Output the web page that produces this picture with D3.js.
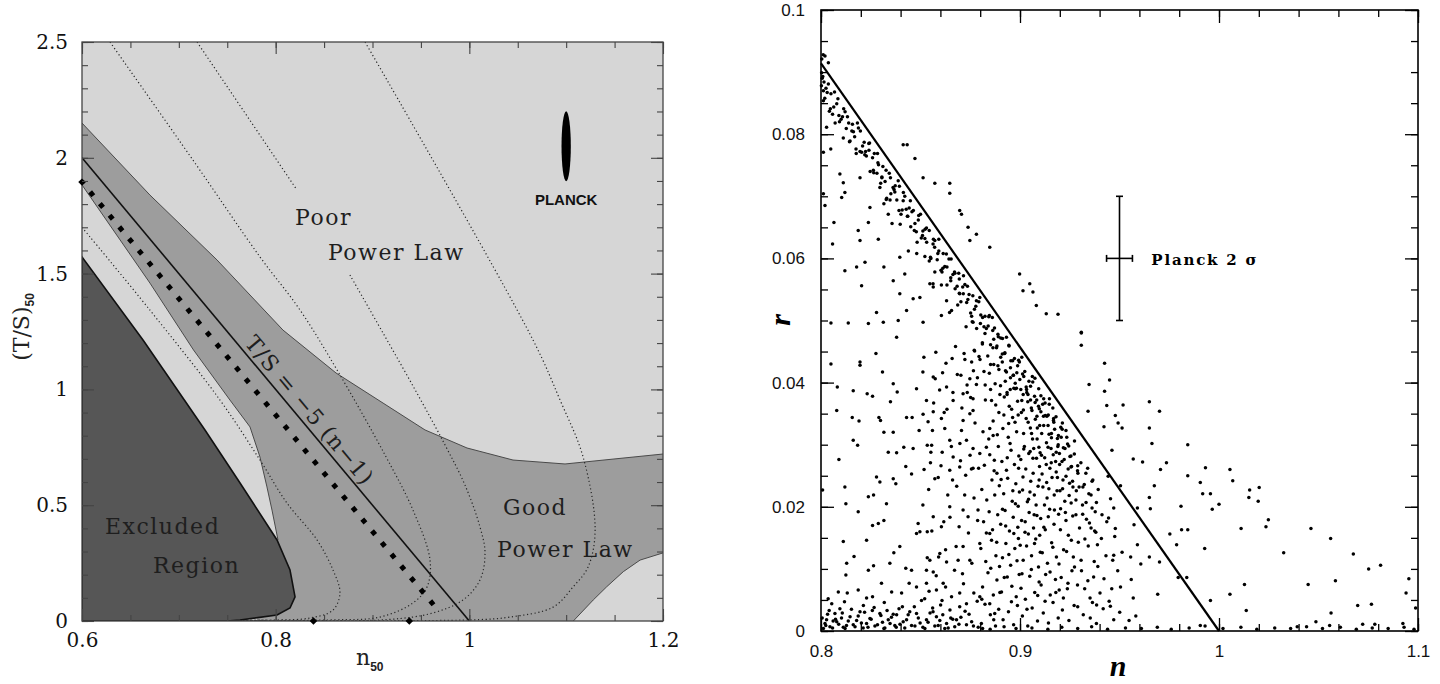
<!DOCTYPE html>
<html>
<head>
<meta charset="utf-8">
<script src="https://cdn.jsdelivr.net/npm/d3@7"></script>
<style>
  body { margin: 0; background: #fff; }
  svg { display: block; }
</style>
</head>
<body>
<svg id="chart" width="1440" height="684"></svg>
<script>
// ---------- left panel data : n50 vs (T/S)50 ----------
const xMajorL = [0.6, 0.8, 1.0, 1.2];
const yMajorL = [0, 0.5, 1, 1.5, 2, 2.5];

// medium grey band ("good power law"), upper and lower edges
const bandUpper = [[0.6,2.15],[0.6702,1.839],[0.7394,1.559],[0.8076,1.256],[0.8623,1.071],[0.9109,0.941],
  [0.9542,0.825],[0.9976,0.747],[1.0451,0.695],[1.0988,0.678],[1.2,0.721]];
const bandLower = [[0.6,1.883],[0.6702,1.459],[0.7152,1.17],[0.7528,0.954],[0.7735,0.838],[0.7838,0.708],
  [0.791,0.579],[0.7962,0.479],[0.8024,0.35]];
// light patch bottom right
const lightCorner = [[1.1074,0],[1.128,0.091],[1.1419,0.148],[1.159,0.213],[1.1763,0.263],[1.2,0.294]];
// excluded region (dark)
const excluded = [[0.6,1.572],[0.663,1.213],[0.727,0.825],[0.7632,0.596],[0.8014,0.35],[0.8148,0.22],
  [0.82,0.104],[0.8148,0.056],[0.8014,0.026],[0.7632,0.004],[0.7498,0],[0.6,0]];

// dotted contours
const contour0 = [[0.6,1.70],[0.67,1.343],[0.7425,0.954],[0.7838,0.695],[0.8117,0.509],[0.8427,0.35],[0.8592,0.22],
  [0.8664,0.121],[0.8592,0.047],[0.8355,0.013],[0.8014,0.004],[0.76,0.003]];
const contour1 = [[0.6289,2.5],[0.7146,1.99],[0.7838,1.572],[0.8251,1.343],[0.8634,1.084],[0.9129,0.717],[0.9418,0.479],
  [0.9594,0.263],[0.9563,0.147],[0.9418,0.078],[0.9077,0.017],[0.86,0.005],[0.76,0.003]];
const contour2a = [[0.7188,2.5],[0.822,1.861]];
const contour2b = [[0.8767,1.494],[0.9108,1.244],[0.9459,0.984],[0.9749,0.76],[0.9955,0.587],[1.011,0.406],[1.0162,0.294],
  [1.011,0.177],[0.9935,0.091],[0.9625,0.035],[0.915,0.006],[0.76,0.003]];
const contour3 = [[0.8923,2.5],[1.0658,1.213],[1.0937,0.954],[1.1175,0.708],[1.1299,0.393],[1.1226,0.233],[1.1071,0.147],
  [1.0865,0.06],[1.042,0.017],[1.0038,0.005],[0.76,0.003]];

const tsLine = [[0.6,2.0],[1.0,0]];          // T/S = -5 (n-1)
const diamondLine = [[0.6,1.895],[0.968,0.045]];
const axisMarks = [[0.6,1.895],[0.839,0],[0.938,0]];
const planckL = { n: 1.1, t: 2.05, dn: 0.0048, dt: 0.151 };

const leftLabels = [
  { text: "Poor", n: 0.82, t: 1.71 },
  { text: "Power Law", n: 0.854, t: 1.559 },
  { text: "Good", n: 1.0348, t: 0.458 },
  { text: "Power Law", n: 1.0286, t: 0.276 },
  { text: "Excluded", n: 0.6238, t: 0.376 },
  { text: "Region", n: 0.6733, t: 0.207 }
];

// ---------- right panel data : n vs r ----------
const xMajorR = [0.8, 0.9, 1.0, 1.1];
const yMajorR = [0, 0.02, 0.04, 0.06, 0.08, 0.1];
const rLine = [[0.8,0.0914],[1.0,0]];
const planck2 = { n: 0.95, r: 0.06, nLo: 0.9435, nHi: 0.9565, rLo: 0.05, rHi: 0.07 };

const bandPoints = [
  [0.8004,0.0921],[0.8011,0.0928],[0.8003,0.0899],[0.8009,0.0893],[0.8015,0.0884],[0.8002,0.0878],
  [0.8006,0.0890],[0.8019,0.0858],[0.8031,0.0867],[0.8042,0.0837],[0.8050,0.0865],[0.8064,0.0844],[0.8071,0.0818],
  [0.8085,0.0857],[0.8093,0.0820],[0.8108,0.0828],[0.8114,0.0841],[0.8127,0.0809],[0.8139,0.0818],[0.8146,0.0789],
  [0.8158,0.0816],[0.8169,0.0796],[0.8177,0.0769],[0.8188,0.0810],[0.8196,0.0772],[0.8209,0.0781],[0.8217,0.0787],
  [0.8228,0.0765],[0.8240,0.0785],[0.8247,0.0740],[0.8259,0.0762],[0.8268,0.0769],[0.8281,0.0737],[0.8289,0.0751],
  [0.8300,0.0721],[0.8311,0.0748],[0.8322,0.0724],[0.8330,0.0697],[0.8343,0.0737],[0.8351,0.0704],[0.8362,0.0714],
  [0.8373,0.0717],[0.8381,0.0694],[0.8394,0.0716],[0.8402,0.0671],[0.8413,0.0693],[0.8421,0.0700],[0.8434,0.0668],
  [0.8443,0.0681],[0.8451,0.0651],[0.8464,0.0677],[0.8472,0.0656],[0.8483,0.0626],[0.8491,0.0669],[0.8504,0.0633],
  [0.8512,0.0644],[0.8523,0.0647],[0.8531,0.0626],[0.8544,0.0645],[0.8552,0.0600],[0.8563,0.0623],[0.8572,0.0629],
  [0.8584,0.0598],[0.8592,0.0612],[0.8603,0.0581],[0.8614,0.0608],[0.8622,0.0587],[0.8633,0.0557],[0.8643,0.0599],
  [0.8652,0.0564],[0.8663,0.0574],[0.8671,0.0578],[0.8684,0.0555],[0.8692,0.0576],[0.8703,0.0530],[0.8712,0.0554],
  [0.8723,0.0558],[0.8732,0.0529],[0.8744,0.0542],[0.8752,0.0512],[0.8763,0.0540],[0.8771,0.0518],[0.8782,0.0487],
  [0.8793,0.0530],[0.8801,0.0495],[0.8812,0.0505],[0.8824,0.0507],[0.8831,0.0487],[0.8843,0.0506],[0.8852,0.0461],
  [0.8863,0.0484],[0.8872,0.0488],[0.8884,0.0459],[0.8891,0.0474],[0.8903,0.0441],[0.8912,0.0471],[0.8923,0.0447],
  [0.8932,0.0417],[0.8944,0.0460],[0.8952,0.0424],[0.8963,0.0435],[0.8972,0.0439],[0.8984,0.0416],[0.8993,0.0436],
  [0.9004,0.0389],[0.9013,0.0414],[0.9024,0.0418],[0.9033,0.0389],[0.9045,0.0402],[0.9053,0.0372],[0.9064,0.0401],
  [0.9073,0.0378],[0.9085,0.0346],[0.9094,0.0390],[0.9105,0.0353],[0.9114,0.0365],[0.9126,0.0367],[0.9135,0.0346],
  [0.9147,0.0365],[0.9158,0.0318],[0.9169,0.0342],[0.9181,0.0345],[0.9193,0.0315],[0.9205,0.0328],[0.9218,0.0295],
  [0.9231,0.0323],[0.9245,0.0298],[0.9259,0.0265],[0.9274,0.0306],[0.9290,0.0266],
  [0.8012,0.0870],[0.8037,0.0881],[0.8058,0.0832],[0.8079,0.0849],[0.8101,0.0824],[0.8121,0.0836],[0.8143,0.0788],
  [0.8163,0.0804],[0.8183,0.0818],[0.8204,0.0771],[0.8224,0.0772],[0.8244,0.0786],[0.8265,0.0738],[0.8286,0.0754],
  [0.8306,0.0730],[0.8327,0.0742],[0.8347,0.0694],[0.8367,0.0711],[0.8388,0.0725],[0.8408,0.0678],[0.8428,0.0679],
  [0.8449,0.0693],[0.8469,0.0645],[0.8489,0.0662],[0.8510,0.0637],[0.8530,0.0649],[0.8550,0.0602],[0.8571,0.0618],
  [0.8592,0.0631],[0.8612,0.0584],[0.8633,0.0586],[0.8654,0.0599],[0.8674,0.0551],[0.8695,0.0567],[0.8715,0.0543],
  [0.8736,0.0555],[0.8757,0.0507],[0.8778,0.0523],[0.8798,0.0537],[0.8819,0.0490],[0.8840,0.0491],[0.8861,0.0505],
  [0.8882,0.0456],[0.8903,0.0472],[0.8924,0.0448],[0.8945,0.0459],[0.8966,0.0412],[0.8988,0.0427],[0.9009,0.0441],
  [0.9031,0.0393],[0.9053,0.0394],[0.9075,0.0407],[0.9097,0.0358],[0.9119,0.0374],[0.9142,0.0348],[0.9165,0.0359],
  [0.9188,0.0310],[0.9212,0.0325]
];

const bandPoints2 = [
  [0.8025,0.0874],[0.8047,0.0841],[0.8068,0.0868],[0.8090,0.0830],[0.8112,0.0794],[0.8133,0.0828],[0.8155,0.0805],
  [0.8176,0.0776],[0.8198,0.0805],[0.8220,0.0767],[0.8241,0.0774],[0.8263,0.0742],[0.8284,0.0769],[0.8306,0.0731],
  [0.8328,0.0695],[0.8349,0.0730],[0.8371,0.0707],[0.8392,0.0677],[0.8414,0.0706],[0.8436,0.0668],[0.8457,0.0675],
  [0.8479,0.0643],[0.8500,0.0671],[0.8522,0.0632],[0.8544,0.0596],[0.8565,0.0631],[0.8587,0.0608],[0.8608,0.0578],
  [0.8630,0.0607],[0.8652,0.0569],[0.8673,0.0576],[0.8695,0.0544],[0.8716,0.0572],[0.8738,0.0534],[0.8760,0.0498],
  [0.8781,0.0532],[0.8803,0.0509],[0.8824,0.0479],[0.8846,0.0508],[0.8868,0.0470],[0.8889,0.0478],[0.8911,0.0446],
  [0.8932,0.0473],[0.8954,0.0435],[0.8976,0.0399],[0.8997,0.0433],[0.9019,0.0410],[0.9040,0.0381],[0.9062,0.0410],
  [0.9084,0.0372],[0.9105,0.0379],[0.9127,0.0347],[0.9148,0.0374],[0.9170,0.0336],[0.9192,0.0300],[0.9213,0.0335],
  [0.9235,0.0312],[0.9256,0.0282],
  [0.8316,0.0688],[0.8357,0.0656],[0.8398,0.0655],[0.8439,0.0612],[0.8481,0.0608],[0.8522,0.0603],[0.8563,0.0559],
  [0.8605,0.0557],[0.8646,0.0513],[0.8687,0.0525],[0.8729,0.0490],[0.8770,0.0452],[0.8811,0.0464],[0.8852,0.0429],
  [0.8894,0.0421],[0.8935,0.0384],[0.8976,0.0390],[0.9017,0.0356],[0.9058,0.0318],[0.9099,0.0331],[0.9141,0.0296],
  [0.9182,0.0288]
];

const cloudPoints = [
  [0.8806,0.0012],[0.8824,0.0043],[0.8851,0.0026],[0.8877,0.0008],[0.8893,0.0035],[0.8812,0.0071],[0.8839,0.0094],
  [0.8866,0.0058],[0.8884,0.0082],[0.8803,0.0133],[0.8828,0.0112],[0.8857,0.0146],[0.8879,0.0121],[0.8897,0.0104],
  [0.8817,0.0176],[0.8845,0.0192],[0.8862,0.0163],[0.8888,0.0187],[0.8808,0.0228],[0.8833,0.0211],[0.8859,0.0243],
  [0.8873,0.0219],[0.8896,0.0234],[0.8821,0.0267],[0.8848,0.0284],[0.8870,0.0258],[0.8891,0.0297],[0.8814,0.0321],
  [0.8843,0.0309],[0.8865,0.0338],[0.8886,0.0316],[0.8826,0.0372],[0.8852,0.0389],[0.8878,0.0364],[0.8899,0.0381],
  [0.8819,0.0418],[0.8868,0.0429],
  [0.8915,0.0018],[0.8942,0.0031],[0.8968,0.0010],[0.8987,0.0041],[0.8907,0.0063],[0.8936,0.0087],[0.8959,0.0072],
  [0.8981,0.0055],[0.8996,0.0091],[0.8912,0.0118],[0.8929,0.0141],[0.8953,0.0106],[0.8974,0.0133],[0.8992,0.0149],
  [0.8903,0.0172],[0.8925,0.0194],[0.8947,0.0161],[0.8966,0.0183],[0.8989,0.0167],[0.8918,0.0221],[0.8938,0.0246],
  [0.8961,0.0209],[0.8979,0.0237],[0.8997,0.0224],[0.8909,0.0273],[0.8932,0.0259],[0.8955,0.0291],[0.8972,0.0268],
  [0.8994,0.0282],[0.8914,0.0326],[0.8941,0.0312],[0.8963,0.0344],[0.8983,0.0321],[0.8921,0.0377],[0.8946,0.0362],
  [0.8969,0.0391],[0.8988,0.0370],[0.8927,0.0419],[0.8952,0.0408],
  [0.9012,0.0024],[0.9039,0.0008],[0.9061,0.0037],[0.9088,0.0016],[0.9005,0.0069],[0.9027,0.0051],[0.9049,0.0088],
  [0.9074,0.0062],[0.9096,0.0079],[0.9016,0.0114],[0.9033,0.0137],[0.9058,0.0121],[0.9079,0.0148],[0.9093,0.0103],
  [0.9008,0.0178],[0.9025,0.0159],[0.9046,0.0191],[0.9068,0.0166],[0.9085,0.0186],[0.9099,0.0154],[0.9013,0.0227],
  [0.9037,0.0208],[0.9054,0.0241],[0.9072,0.0219],[0.9091,0.0233],[0.9004,0.0276],[0.9029,0.0261],[0.9051,0.0289],
  [0.9066,0.0254],[0.9083,0.0278],[0.9098,0.0265],[0.9018,0.0318],[0.9041,0.0336],[0.9063,0.0309],[0.9087,0.0327],
  [0.9009,0.0371],[0.9034,0.0384],[0.9057,0.0359],[0.9076,0.0368],
  [0.9117,0.0029],[0.9143,0.0013],[0.9166,0.0046],[0.9192,0.0021],[0.9106,0.0074],[0.9129,0.0091],[0.9152,0.0058],
  [0.9178,0.0083],[0.9197,0.0066],[0.9112,0.0126],[0.9138,0.0109],[0.9159,0.0142],[0.9183,0.0119],[0.9104,0.0181],
  [0.9127,0.0163],[0.9149,0.0196],[0.9171,0.0172],[0.9194,0.0188],[0.9115,0.0232],[0.9136,0.0214],[0.9161,0.0247],
  [0.9186,0.0226],[0.9108,0.0283],[0.9132,0.0268],[0.9156,0.0294],[0.9179,0.0273],[0.9198,0.0286],[0.9119,0.0331],
  [0.9146,0.0317],[0.9168,0.0339],
  [0.9213,0.0034],[0.9246,0.0017],[0.9272,0.0041],[0.9207,0.0086],[0.9238,0.0068],[0.9261,0.0097],[0.9289,0.0074],
  [0.9219,0.0131],[0.9243,0.0154],[0.9268,0.0119],[0.9293,0.0143],[0.9204,0.0197],[0.9231,0.0178],[0.9257,0.0206],
  [0.9281,0.0187],[0.9216,0.0243],[0.9242,0.0261],[0.9266,0.0232],[0.9291,0.0254],[0.9226,0.0294],[0.9251,0.0281],
  [0.9318,0.0026],[0.9352,0.0053],[0.9384,0.0012],[0.9309,0.0097],[0.9341,0.0081],[0.9373,0.0112],[0.9326,0.0148],
  [0.9357,0.0166],[0.9389,0.0139],[0.9314,0.0203],[0.9346,0.0221],[0.9378,0.0192],[0.9331,0.0254],[0.9362,0.0241],
  [0.9418,0.0036],[0.9461,0.0068],[0.9432,0.0121],[0.9476,0.0152],[0.9412,0.0187],[0.9455,0.0213],[0.9491,0.0097],
  [0.9443,0.0249],
  [0.8521,0.0052],[0.8563,0.0031],[0.8608,0.0049],[0.8652,0.0021],[0.8697,0.0039],[0.8744,0.0027],[0.8785,0.0048],
  [0.8534,0.0118],[0.8579,0.0089],[0.8626,0.0131],[0.8671,0.0098],[0.8716,0.0076],[0.8758,0.0109],[0.8541,0.0228],
  [0.8589,0.0247],[0.8637,0.0219],[0.8682,0.0233],[0.8727,0.0251],[0.8769,0.0214],[0.8552,0.0288],[0.8603,0.0266],
  [0.8655,0.0297],[0.8701,0.0274],[0.8749,0.0283],[0.8792,0.0262],[0.8566,0.0367],[0.8619,0.0352],[0.8663,0.0384],
  [0.8708,0.0359],[0.8752,0.0376],[0.8781,0.0397],[0.8577,0.0449],[0.8628,0.0431],[0.8676,0.0458],[0.8723,0.0437],
  [0.8766,0.0419],
  [0.8703,0.0412],[0.8719,0.0447],[0.8734,0.0396],[0.8757,0.0433],[0.8772,0.0451],[0.8786,0.0408],[0.8799,0.0437],
  [0.8811,0.0462],[0.8825,0.0396],[0.8838,0.0443],[0.8846,0.0415],[0.8857,0.0371],[0.8864,0.0456],[0.8875,0.0398],
  [0.8889,0.0427],[0.8894,0.0352],[0.8902,0.0395],[0.8911,0.0433],[0.8919,0.0348],[0.8926,0.0402],[0.8935,0.0381],
  [0.8943,0.0334],[0.8951,0.0389],[0.8958,0.0357],[0.8967,0.0412],[0.8975,0.0336],[0.8982,0.0391],[0.8991,0.0348],
  [0.8999,0.0405],[0.9007,0.0352],[0.9016,0.0381],[0.9022,0.0297],[0.9031,0.0342],[0.9039,0.0369],[0.9044,0.0286],
  [0.9052,0.0327],[0.9060,0.0355],[0.9069,0.0294],[0.9077,0.0341],[0.9086,0.0309],[0.9093,0.0362],[0.9101,0.0287],
  [0.9109,0.0318],[0.9118,0.0346],[0.9124,0.0279],[0.9133,0.0303],[0.9141,0.0331],[0.9150,0.0262],[0.9158,0.0311],
  [0.9167,0.0284],[0.9174,0.0325],[0.9182,0.0256],[0.9190,0.0297],[0.9199,0.0268],[0.9207,0.0312],[0.9214,0.0229],
  [0.9222,0.0276],[0.9231,0.0249],[0.9239,0.0301],[0.9247,0.0218],[0.9256,0.0264],[0.9264,0.0241],[0.9273,0.0285],
  [0.9281,0.0211],[0.9289,0.0258],[0.9297,0.0232],[0.9306,0.0271],[0.9315,0.0188],[0.9323,0.0236],[0.9332,0.0207],
  [0.9340,0.0262],[0.9349,0.0174],[0.9357,0.0219],[0.9366,0.0243],[0.9375,0.0161],[0.9384,0.0207],[0.9393,0.0228],
  [0.8884,0.0254],[0.8912,0.0196],[0.8936,0.0279],[0.8964,0.0226],[0.8991,0.0201],[0.9015,0.0248],[0.9043,0.0212],
  [0.9071,0.0187],[0.9096,0.0243],[0.9123,0.0203],[0.9145,0.0229],[0.9173,0.0195],[0.9201,0.0226],[0.9228,0.0191]
];

const cloudPoints2 = [
  [0.8808,0.0051],[0.8831,0.0158],[0.8853,0.0101],[0.8871,0.0275],[0.8883,0.0143],[0.8899,0.0062],[0.8905,0.0244],
  [0.8921,0.0086],[0.8928,0.0169],[0.8944,0.0123],[0.8950,0.0302],[0.8957,0.0047],[0.8969,0.0157],[0.8977,0.0205],
  [0.8985,0.0113],[0.8993,0.0262],[0.9001,0.0138],[0.9010,0.0092],[0.9019,0.0293],[0.9026,0.0176],[0.9035,0.0035],
  [0.9042,0.0156],[0.9050,0.0224],[0.9057,0.0099],[0.9065,0.0278],[0.9073,0.0141],[0.9081,0.0203],[0.9089,0.0057],
  [0.9095,0.0296],[0.9102,0.0127],[0.9111,0.0253],[0.9120,0.0167],[0.9126,0.0048],[0.9134,0.0239],[0.9142,0.0184],
  [0.9151,0.0095],[0.9157,0.0271],[0.9165,0.0135],[0.9172,0.0219],[0.9180,0.0062],[0.9188,0.0247],[0.9196,0.0108],
  [0.9203,0.0163],[0.9211,0.0273],[0.9218,0.0053],[0.9225,0.0209],[0.9234,0.0128],[0.9241,0.0077],[0.9249,0.0238],
  [0.9258,0.0146],[0.9265,0.0185],[0.9274,0.0103],[0.9283,0.0226],[0.9290,0.0039],[0.9299,0.0166],[0.9307,0.0114],
  [0.9316,0.0232],[0.9325,0.0068],[0.9334,0.0180],[0.9343,0.0137],[0.9353,0.0021],[0.9362,0.0198],[0.9370,0.0087],
  [0.9381,0.0159],[0.9391,0.0104],[0.9402,0.0061],[0.9409,0.0149],[0.9422,0.0084],[0.9436,0.0176],[0.9448,0.0048],
  [0.9466,0.0114],
  [0.8512,0.0203],[0.8538,0.0337],[0.8557,0.0161],[0.8574,0.0406],[0.8591,0.0119],[0.8609,0.0288],[0.8626,0.0071],
  [0.8633,0.0357],[0.8648,0.0183],[0.8661,0.0243],[0.8679,0.0136],[0.8685,0.0413],[0.8698,0.0302],[0.8711,0.0092],
  [0.8722,0.0219],[0.8735,0.0384],[0.8741,0.0158],[0.8756,0.0261],[0.8768,0.0061],[0.8774,0.0335],[0.8787,0.0178],
  [0.8794,0.0442],[0.8543,0.0064],[0.8596,0.0388],[0.8659,0.0439],[0.8617,0.0176]
];

const sparsePoints = [
  [0.8020,0.0926],[0.8037,0.0915],[0.8012,0.0854],[0.8028,0.0811],[0.8012,0.0771],[0.8049,0.0776],[0.8012,0.0704],
  [0.8020,0.0685],[0.8065,0.0658],[0.8058,0.0623],[0.8120,0.0580],[0.8137,0.0496],[0.8050,0.0496],[0.8095,0.0736],
  [0.8104,0.0698],[0.8120,0.0706],[0.8196,0.0629],[0.8187,0.0645],[0.8238,0.0658],[0.8288,0.0631],[0.8179,0.0586],
  [0.8221,0.0594],[0.8204,0.0556],[0.8279,0.0513],[0.8238,0.0495],[0.8313,0.0497],[0.8363,0.0564],[0.8316,0.0586],
  [0.8396,0.0602],[0.8421,0.0575],[0.8396,0.0543],[0.8430,0.0516],[0.8388,0.0500],[0.8513,0.0497],[0.8463,0.0535],
  [0.8338,0.0671],[0.8246,0.0682],[0.8296,0.0714],[0.8112,0.0722],[0.8196,0.0730],[0.8497,0.0537],[0.8547,0.0559],
  [0.8572,0.0578],[0.8564,0.0554],[0.8631,0.0532],[0.8605,0.0508],[0.8656,0.0516],[0.8697,0.0543],[0.8764,0.0497],
  [0.8050,0.0430],[0.8196,0.0433],[0.8196,0.0428],[0.8276,0.0447],[0.8380,0.0473],[0.8082,0.0393],[0.8162,0.0387],
  [0.8079,0.0355],[0.8157,0.0344],[0.8191,0.0338],[0.8090,0.0276],[0.8162,0.0307],[0.8184,0.0299],[0.8232,0.0382],
  [0.8259,0.0378],[0.8309,0.0417],[0.8363,0.0398],[0.8383,0.0385],[0.8349,0.0369],[0.8291,0.0344],[0.8299,0.0339],
  [0.8316,0.0320],[0.8363,0.0320],[0.8338,0.0288],[0.8380,0.0287],[0.8430,0.0344],[0.8458,0.0344],[0.8416,0.0296],
  [0.8463,0.0294],[0.8426,0.0265],[0.8455,0.0253],[0.8517,0.0441],[0.8512,0.0417],[0.8480,0.0390],[0.8564,0.0409],
  [0.8611,0.0416],[0.8530,0.0371],[0.8513,0.0349],[0.8564,0.0353],[0.8605,0.0342],[0.8622,0.0326],[0.8493,0.0323],
  [0.8560,0.0323],[0.8534,0.0299],[0.8556,0.0299],[0.8550,0.0271],[0.8518,0.0260],[0.8572,0.0245],[0.8647,0.0307],
  [0.8664,0.0280],[0.8647,0.0259],[0.8714,0.0339],[0.8748,0.0350],[0.8764,0.0355],[0.8706,0.0323],[0.8731,0.0307],
  [0.8764,0.0294],[0.8697,0.0264],[0.8764,0.0262],[0.8798,0.0286],[0.8831,0.0296],[0.8865,0.0315],[0.8848,0.0326],
  [0.8631,0.0393],[0.8664,0.0371],[0.8714,0.0382],[0.8748,0.0406],[0.8764,0.0374],
  [0.8008,0.0227],[0.8120,0.0232],[0.8125,0.0205],[0.8187,0.0192],[0.8238,0.0216],[0.8264,0.0219],[0.8329,0.0205],
  [0.8279,0.0248],[0.8296,0.0240],[0.8376,0.0237],[0.8363,0.0245],[0.8288,0.0173],[0.8259,0.0170],[0.8316,0.0178],
  [0.8229,0.0146],[0.8112,0.0144],[0.8166,0.0120],[0.8129,0.0109],[0.8125,0.0090],[0.8238,0.0098],[0.8264,0.0105],
  [0.8346,0.0109],[0.8366,0.0126],[0.8396,0.0136],[0.8426,0.0101],[0.8455,0.0098],[0.8480,0.0157],[0.8497,0.0160],
  [0.8534,0.0160],[0.8488,0.0173],[0.8564,0.0184],[0.8605,0.0168],[0.8694,0.0168],[0.8647,0.0200],[0.8714,0.0195],
  [0.8739,0.0184],[0.8789,0.0195],[0.8597,0.0125],[0.8547,0.0114],[0.8530,0.0098],[0.8564,0.0095],[0.8631,0.0111],
  [0.8689,0.0114],[0.8748,0.0114],[0.8714,0.0136],[0.8798,0.0141],[0.8848,0.0157],[0.8087,0.0063],[0.8132,0.0061],
  [0.8187,0.0066],[0.8229,0.0053],[0.8259,0.0055],[0.8304,0.0077],[0.8355,0.0063],[0.8405,0.0061],[0.8443,0.0077],
  [0.8480,0.0071],[0.8530,0.0077],[0.8580,0.0066],[0.8614,0.0077],[0.8656,0.0055],[0.8697,0.0061],[0.8731,0.0044],
  [0.8798,0.0055],[0.8848,0.0044],[0.8873,0.0028]
];

const floorPoints = [
  [0.8054,0.0044],[0.8070,0.0028],[0.8095,0.0036],[0.8146,0.0023],[0.8196,0.0031],[0.8246,0.0020],[0.8296,0.0028],
  [0.8338,0.0018],[0.8380,0.0026],[0.8430,0.0018],[0.8480,0.0028],[0.8530,0.0018],[0.8580,0.0023],[0.8631,0.0012],
  [0.8681,0.0018],[0.8731,0.0010],[0.8020,0.0012],[0.8045,0.0007],[0.8079,0.0015],[0.8112,0.0006],[0.8162,0.0010],
  [0.8212,0.0005],[0.8271,0.0008],[0.8321,0.0005],[0.8371,0.0009],[0.8421,0.0005],[0.8472,0.0008],[0.8522,0.0004],
  [0.8572,0.0008],[0.8622,0.0004],[0.8672,0.0007],[0.8012,0.0004],[0.8028,0.0018],[0.8033,0.0027],[0.8061,0.0016],
  [0.8103,0.0021],[0.8128,0.0009],[0.8179,0.0017],[0.8229,0.0012],[0.8258,0.0033],[0.8309,0.0014],[0.8354,0.0022],
  [0.8397,0.0011],[0.8446,0.0031],[0.8498,0.0013],[0.8548,0.0029],[0.8597,0.0017],[0.8648,0.0034],[0.8703,0.0022],
  [0.8757,0.0015],[0.8036,0.0052],[0.8118,0.0047],[0.8213,0.0041],[0.8318,0.0046],[0.8409,0.0039],[0.8505,0.0049],
  [0.8601,0.0042],
  [0.8006,0.0021],[0.8024,0.0009],[0.8041,0.0033],[0.8058,0.0005],[0.8073,0.0019],[0.8089,0.0011],[0.8107,0.0029],
  [0.8121,0.0004],[0.8137,0.0016],[0.8153,0.0035],[0.8171,0.0007],[0.8187,0.0024],[0.8203,0.0013],[0.8219,0.0030],
  [0.8236,0.0006],[0.8252,0.0019],[0.8267,0.0038],[0.8284,0.0010],[0.8301,0.0025],[0.8316,0.0004],[0.8332,0.0033],
  [0.8347,0.0012],[0.8363,0.0027],[0.8378,0.0006],[0.8392,0.0036],[0.8413,0.0015],[0.8438,0.0026],[0.8455,0.0009],
  [0.8469,0.0039],[0.8489,0.0021],[0.8512,0.0006],[0.8538,0.0014],[0.8561,0.0037],[0.8589,0.0009],[0.8612,0.0026],
  [0.8639,0.0005],[0.8662,0.0019],[0.8693,0.0011],[0.8724,0.0032],[0.8766,0.0008],[0.8812,0.0004],[0.8868,0.0018],
  [0.8790,0.0006],[0.8850,0.0003],[0.8920,0.0007],[0.8980,0.0004],[0.9060,0.0005],[0.9140,0.0003],[0.9210,0.0006],
  [0.9290,0.0004],[0.9360,0.0007],[0.9440,0.0003],[0.9530,0.0005],[0.9610,0.0004],[0.9690,0.0006],[0.9760,0.0003],
  [0.9850,0.0005],[0.9930,0.0008],[1.0020,0.0004],[1.0110,0.0006],[1.0190,0.0003],[1.0280,0.0005],[1.0360,0.0004],
  [1.0440,0.0007],[1.0520,0.0004],[1.0610,0.0006],[1.0690,0.0003],[1.0770,0.0005],[1.0850,0.0004],[1.0930,0.0006],
  [1.0980,0.0003]
];

const outerPoints = [
  [0.8472,0.0761],[0.8513,0.0730],[0.8572,0.0721],[0.8647,0.0721],[0.8647,0.0705],[0.8697,0.0677],[0.8706,0.0671],
  [0.8739,0.0650],[0.8748,0.0629],[0.8781,0.0639],[0.8848,0.0618],[0.8998,0.0575],[0.9015,0.0548],[0.9049,0.0559],
  [0.9065,0.0546],[0.9082,0.0524],[0.9132,0.0511],[0.9191,0.0510],[0.9308,0.0481],[0.8413,0.0783],[0.8433,0.0783],
  [0.9308,0.0480],[0.9308,0.0460],[0.9425,0.0431],[0.9450,0.0404],[0.9347,0.0397],[0.9425,0.0386],[0.9342,0.0354],
  [0.9436,0.0363],[0.9518,0.0364],[0.9479,0.0347],[0.9493,0.0335],[0.9513,0.0327],[0.9422,0.0329],[0.9650,0.0369],
  [0.9701,0.0354],[0.9650,0.0327],[0.9663,0.0302],[0.9843,0.0300],[0.9462,0.0291],[0.9569,0.0277],[0.9616,0.0272],
  [0.9736,0.0271],[0.9706,0.0260],[0.9932,0.0263],[1.0055,0.0260],[0.9843,0.0250],[1.0069,0.0242],[0.9906,0.0239],
  [1.0154,0.0227],[1.0202,0.0231],[1.0150,0.0215],[1.0197,0.0209],[0.9675,0.0234],[0.9505,0.0234],[0.9918,0.0221],
  [0.9957,0.0221],[1.0000,0.0204],[0.9966,0.0196],[0.9809,0.0201],[0.9650,0.0215],[0.9655,0.0197],[0.9590,0.0198],
  [0.9471,0.0198],[0.9445,0.0182],[0.9573,0.0171],[0.9479,0.0165],[1.0111,0.0165],[1.0248,0.0179],[1.0236,0.0168],
  [0.9812,0.0163],[0.9843,0.0163],[1.0462,0.0165],[1.0561,0.0149],[0.9753,0.0156],[0.9787,0.0139],[0.9928,0.0133],
  [1.0325,0.0126],[1.0675,0.0124],[0.9590,0.0139],[0.9650,0.0119],[0.9701,0.0111],[0.9607,0.0108],[0.9556,0.0119],
  [0.9513,0.0127],[0.9471,0.0122],[1.0752,0.0100],[1.0812,0.0106],[0.9795,0.0086],[0.9838,0.0086],[0.9559,0.0083],
  [0.9505,0.0071],[1.0128,0.0075],[1.0448,0.0075],[1.0585,0.0081],[1.0954,0.0084],[1.0940,0.0061],[0.9692,0.0059],
  [0.9569,0.0053],[1.0055,0.0059],[0.9957,0.0049],[1.0137,0.0033],[1.0697,0.0041],[1.0766,0.0043],[1.0563,0.0029],
  [1.0988,0.0037],[0.9501,0.0030],[0.9582,0.0024],[0.9471,0.0018],[0.9548,0.0017],[0.9454,0.0040],[0.9364,0.0046],
  [0.9385,0.0042],[1.0487,0.0015],[1.0556,0.0009],[1.0722,0.0011],[1.0783,0.0011],[1.0924,0.0012],[0.9906,0.0009],
  [1.0393,0.0007]
];

const svg = d3.select("#chart");
const defs = svg.append("defs");

// ================= LEFT PANEL =================
const xL = d3.scaleLinear().domain([0.6, 1.2]).range([82, 663]);
const yL = d3.scaleLinear().domain([0, 2.5]).range([621, 42]);

defs.append("clipPath").attr("id", "clipL").append("rect")
  .attr("x", xL(0.6)).attr("y", yL(2.5))
  .attr("width", xL(1.2) - xL(0.6)).attr("height", yL(0) - yL(2.5));

const lineL = d3.line().x(d => xL(d[0])).y(d => yL(d[1]));
const curveL = d3.line().x(d => xL(d[0])).y(d => yL(d[1])).curve(d3.curveCatmullRom);

const gL = svg.append("g");
const plotL = gL.append("g").attr("clip-path", "url(#clipL)");

plotL.append("rect")
  .attr("x", xL(0.6)).attr("y", yL(2.5))
  .attr("width", xL(1.2) - xL(0.6)).attr("height", yL(0) - yL(2.5))
  .attr("fill", "#d6d6d6");

// good power law band
const bandPoly = bandUpper.concat(lightCorner.slice().reverse(), [[0.78, 0]], bandLower.slice().reverse());
plotL.append("path").attr("d", lineL(bandPoly) + "Z").attr("fill", "#9d9d9d");

[bandUpper, bandLower, lightCorner].forEach(b => {
  plotL.append("path").attr("d", lineL(b))
    .attr("fill", "none").attr("stroke", "#4a4a4a").attr("stroke-width", 1);
});

// dotted contours
[contour0, contour1, contour2a, contour2b, contour3].forEach(c => {
  plotL.append("path").attr("d", curveL(c))
    .attr("fill", "none").attr("stroke", "#262626")
    .attr("stroke-width", 1.2).attr("stroke-dasharray", "1.2 2.6");
});

// excluded region
plotL.append("path").attr("d", lineL(excluded) + "Z")
  .attr("fill", "#565656").attr("stroke", "#111").attr("stroke-width", 1.6);

// T/S = -5(n-1)
plotL.append("path").attr("d", lineL(tsLine))
  .attr("fill", "none").attr("stroke", "#111").attr("stroke-width", 1.6);

// diamond line
plotL.append("path").attr("d", lineL(diamondLine))
  .attr("fill", "none").attr("stroke", "#000")
  .attr("stroke-width", 5).attr("stroke-dasharray", "5 10.2").attr("stroke-dashoffset", 2.5);

// labels
gL.selectAll("text.region").data(leftLabels).join("text")
  .attr("class", "region")
  .attr("x", d => xL(d.n)).attr("y", d => yL(d.t))
  .attr("font-family", "DejaVu Serif").attr("font-size", 22)
  .attr("letter-spacing", 1.5).attr("fill", "#1e1e1e")
  .text(d => d.text);

const ang = Math.atan2(yL(tsLine[1][1]) - yL(tsLine[0][1]), xL(tsLine[1][0]) - xL(tsLine[0][0]));
const angDeg = ang * 180 / Math.PI;
const tx = xL(0.825) + 5 * Math.sin(ang), ty = yL(0.875) - 5 * Math.cos(ang);
gL.append("text")
  .attr("transform", `translate(${tx},${ty}) rotate(${angDeg})`)
  .attr("text-anchor", "middle")
  .attr("font-family", "DejaVu Serif").attr("font-size", 22)
  .attr("letter-spacing", 1).attr("fill", "#1e1e1e")
  .text("T/S = \u22125 (n\u22121)");

// Planck ellipse
gL.append("ellipse")
  .attr("cx", xL(planckL.n)).attr("cy", yL(planckL.t))
  .attr("rx", xL(planckL.n + planckL.dn) - xL(planckL.n))
  .attr("ry", yL(planckL.t - planckL.dt) - yL(planckL.t))
  .attr("fill", "#000");
gL.append("text")
  .attr("x", xL(planckL.n)).attr("y", yL(1.796))
  .attr("text-anchor", "middle")
  .attr("font-family", "Liberation Sans, Arial, sans-serif").attr("font-weight", "bold")
  .attr("font-size", 15).attr("fill", "#111")
  .text("PLANCK");

// frame
gL.append("rect")
  .attr("x", xL(0.6)).attr("y", yL(2.5))
  .attr("width", xL(1.2) - xL(0.6)).attr("height", yL(0) - yL(2.5))
  .attr("fill", "none").attr("stroke", "#444").attr("stroke-width", 1.3);

// diamonds on the axes
gL.selectAll("path.mark").data(axisMarks).join("path")
  .attr("class", "mark")
  .attr("transform", d => `translate(${xL(d[0])},${yL(d[1])}) rotate(45)`)
  .attr("d", d3.symbol(d3.symbolSquare, 28)())
  .attr("fill", "#000");

function drawTicks(g, x, y, o) {
  const [x0, x1] = x.range(), [y0, y1] = y.range();
  const add = (axis, tx, ty, vals, len) => {
    const a = g.append("g").attr("transform", `translate(${tx},${ty})`)
      .call(axis.tickValues(vals).tickSize(-len).tickFormat(""));
    a.select(".domain").remove();
    a.selectAll("line").attr("stroke", o.color).attr("stroke-width", o.width);
  };
  add(d3.axisBottom(x), 0, y0, x.ticks(o.xMinorCount), o.minor);
  add(d3.axisTop(x), 0, y1, x.ticks(o.xMinorCount), o.minor);
  add(d3.axisLeft(y), x0, 0, y.ticks(o.yMinorCount), o.minor);
  add(d3.axisRight(y), x1, 0, y.ticks(o.yMinorCount), o.minor);
  add(d3.axisBottom(x), 0, y0, o.xMajor, o.major);
  add(d3.axisTop(x), 0, y1, o.xMajor, o.major);
  add(d3.axisLeft(y), x0, 0, o.yMajor, o.major);
  add(d3.axisRight(y), x1, 0, o.yMajor, o.major);

  const bx = g.append("g").attr("transform", `translate(0,${y0})`)
    .call(d3.axisBottom(x).tickValues(o.xMajor).tickSize(0).tickPadding(o.xPad).tickFormat(d3.format("~g")));
  const by = g.append("g").attr("transform", `translate(${x0},0)`)
    .call(d3.axisLeft(y).tickValues(o.yMajor).tickSize(0).tickPadding(o.yPad).tickFormat(d3.format("~g")));
  [bx, by].forEach(a => {
    a.select(".domain").remove();
    a.selectAll("text").attr("font-family", o.font).attr("font-size", o.fontSize).attr("fill", "#111");
  });
}

drawTicks(gL, xL, yL, {
  xMajor: xMajorL, yMajor: yMajorL, xMinorCount: 12, yMinorCount: 25,
  minor: 6, major: 12, color: "#444", width: 1.1,
  xPad: 12, yPad: 14, font: "DejaVu Serif", fontSize: 20
});

// axis titles
const yTitleL = gL.append("text")
  .attr("transform", `translate(29,${327}) rotate(-90)`)
  .attr("text-anchor", "middle")
  .attr("font-family", "DejaVu Serif").attr("font-size", 22).attr("fill", "#222");
yTitleL.append("tspan").text("(T/S)");
yTitleL.append("tspan").attr("dy", 5).attr("font-family", "Liberation Sans, Arial, sans-serif")
  .attr("font-weight", "bold").attr("font-size", 12).text("50");

const xTitleL = gL.append("text")
  .attr("x", 356).attr("y", 665)
  .attr("font-family", "DejaVu Serif").attr("font-size", 22).attr("fill", "#222");
xTitleL.append("tspan").text("n");
xTitleL.append("tspan").attr("dy", 6).attr("font-family", "Liberation Sans, Arial, sans-serif")
  .attr("font-weight", "bold").attr("font-size", 12).text("50");

// ================= RIGHT PANEL =================
const xR = d3.scaleLinear().domain([0.8, 1.1]).range([821, 1418]);
const yR = d3.scaleLinear().domain([0, 0.1]).range([631, 10]);
const gR = svg.append("g");

const allPoints = [].concat(floorPoints, sparsePoints, cloudPoints, cloudPoints2, bandPoints, bandPoints2, outerPoints);
gR.append("g").selectAll("circle").data(allPoints).join("circle")
  .attr("cx", d => xR(d[0])).attr("cy", d => yR(d[1]))
  .attr("r", 1.75).attr("fill", "#000");

const lineR = d3.line().x(d => xR(d[0])).y(d => yR(d[1]));
gR.append("path").attr("d", lineR(rLine))
  .attr("fill", "none").attr("stroke", "#000").attr("stroke-width", 2.2);

// Planck 2 sigma error bar
const eb = gR.append("g").attr("stroke", "#000").attr("stroke-width", 1.6);
eb.append("line").attr("x1", xR(planck2.n)).attr("x2", xR(planck2.n))
  .attr("y1", yR(planck2.rLo)).attr("y2", yR(planck2.rHi));
eb.append("line").attr("x1", xR(planck2.nLo)).attr("x2", xR(planck2.nHi))
  .attr("y1", yR(planck2.r)).attr("y2", yR(planck2.r));
[planck2.rLo, planck2.rHi].forEach(v => {
  eb.append("line").attr("x1", xR(planck2.n) - 3.5).attr("x2", xR(planck2.n) + 3.5)
    .attr("y1", yR(v)).attr("y2", yR(v));
});
[planck2.nLo, planck2.nHi].forEach(v => {
  eb.append("line").attr("x1", xR(v)).attr("x2", xR(v))
    .attr("y1", yR(planck2.r) - 3.5).attr("y2", yR(planck2.r) + 3.5);
});
gR.append("text")
  .attr("x", xR(0.966)).attr("y", yR(0.0589))
  .attr("font-family", "DejaVu Serif").attr("font-weight", "bold")
  .attr("font-size", 15).attr("letter-spacing", 1.8).attr("fill", "#000")
  .text("Planck 2 \u03c3");

gR.append("rect")
  .attr("x", xR(0.8)).attr("y", yR(0.1))
  .attr("width", xR(1.1) - xR(0.8)).attr("height", yR(0) - yR(0.1))
  .attr("fill", "none").attr("stroke", "#000").attr("stroke-width", 1.6);

drawTicks(gR, xR, yR, {
  xMajor: xMajorR, yMajor: yMajorR, xMinorCount: 15, yMinorCount: 20,
  minor: 7, major: 13, color: "#000", width: 1.3,
  xPad: 14, yPad: 16, font: "Liberation Sans, Arial, sans-serif", fontSize: 17
});

gR.append("text")
  .attr("transform", "translate(790,320) rotate(-90)")
  .attr("text-anchor", "middle")
  .attr("font-family", "Liberation Serif, serif").attr("font-style", "italic").attr("font-weight", "bold")
  .attr("font-size", 30).attr("fill", "#000")
  .text("r");
gR.append("text")
  .attr("x", 1118).attr("y", 676)
  .attr("text-anchor", "middle")
  .attr("font-family", "Liberation Serif, serif").attr("font-style", "italic").attr("font-weight", "bold")
  .attr("font-size", 30).attr("fill", "#000")
  .text("n");
</script>
</body>
</html>
